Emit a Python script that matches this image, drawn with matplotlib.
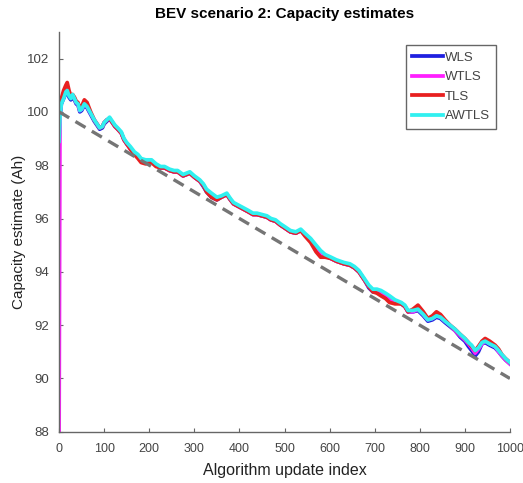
import matplotlib
matplotlib.use('Agg')
import matplotlib.pyplot as plt

plt.rcParams['font.family'] = ['Liberation Sans', 'DejaVu Sans']

# Update indices shared by all estimate series
idx = [0, 2, 5, 10, 15, 18, 22, 26, 30, 34, 38, 42, 46, 50, 56, 62, 70, 78, 84, 90,
       96, 100, 106, 112, 118, 124, 130, 138, 144, 150, 158, 167, 175, 182, 192, 205,
       215, 225, 234, 245, 255, 263, 275, 290, 300, 312, 320, 327, 338, 350, 360, 372,
       380, 387, 398, 409, 420, 430, 439, 450, 461, 470, 480, 491, 500, 513, 525, 536,
       545, 558, 570, 580, 590, 603, 615, 632, 645, 655, 665, 677, 687, 696, 705, 714,
       724, 733, 745, 759, 767, 774, 785, 796, 808, 818, 828, 837, 846, 856, 867, 878,
       890, 900, 908, 915, 923, 930, 938, 945, 955, 967, 975, 982, 990, 1000]

awtls = [98.9, 99.8, 100.3, 100.5, 100.75, 100.8, 100.6, 100.5, 100.65, 100.5, 100.35, 100.3,
         100.05, 100.1, 100.3, 100.2, 99.95, 99.7, 99.55, 99.4, 99.45, 99.6, 99.7, 99.8,
         99.65, 99.5, 99.4, 99.25, 99.0, 98.85, 98.7, 98.5, 98.4, 98.25, 98.2, 98.2,
         98.05, 97.95, 97.95, 97.85, 97.8, 97.8, 97.65, 97.75, 97.6, 97.45, 97.3, 97.1,
         96.95, 96.8, 96.85, 96.95, 96.75, 96.6, 96.5, 96.4, 96.3, 96.2, 96.2, 96.15,
         96.1, 96.0, 95.95, 95.8, 95.7, 95.55, 95.5, 95.6, 95.45, 95.25, 95.0, 94.8,
         94.65, 94.55, 94.45, 94.35, 94.3, 94.2, 94.05, 93.75, 93.5, 93.35, 93.35, 93.3,
         93.2, 93.1, 92.95, 92.85, 92.75, 92.55, 92.55, 92.6, 92.4, 92.2, 92.25, 92.35,
         92.3, 92.15, 92.0, 91.85, 91.65, 91.5, 91.35, 91.25, 91.05, 91.15, 91.35, 91.4,
         91.3, 91.2, 91.05, 90.9, 90.75, 90.6]

tls = [99.8, 100.2, 100.5, 100.8, 101.0, 101.1, 100.8, 100.6, 100.65, 100.55, 100.4, 100.35,
       100.1, 100.2, 100.45, 100.35, 100.0, 99.7, 99.55, 99.4, 99.45, 99.6, 99.7, 99.75,
       99.6, 99.45, 99.35, 99.2, 98.95, 98.8, 98.6, 98.4, 98.25, 98.1, 98.05, 98.1,
       97.95, 97.9, 97.9, 97.8, 97.75, 97.75, 97.6, 97.7, 97.55, 97.4, 97.25, 97.0,
       96.8, 96.7, 96.8, 96.9, 96.7, 96.55, 96.45, 96.35, 96.25, 96.15, 96.15, 96.1,
       96.05, 95.95, 95.9, 95.75, 95.65, 95.5, 95.45, 95.55, 95.35, 95.1, 94.75, 94.55,
       94.55, 94.5, 94.4, 94.3, 94.25, 94.15, 94.0, 93.7, 93.45, 93.25, 93.2, 93.1,
       93.0, 92.85, 92.8, 92.8, 92.7, 92.5, 92.6, 92.75, 92.5, 92.25, 92.35, 92.5,
       92.4, 92.2, 92.0, 91.85, 91.65, 91.5, 91.35, 91.2, 91.05, 91.2, 91.4, 91.5,
       91.4, 91.25, 91.1, 90.9, 90.75, 90.6]

wtls = [88.0, 99.9, 100.4, 100.7, 100.9, 100.95, 100.7, 100.55, 100.6, 100.5, 100.35, 100.3,
        100.05, 100.1, 100.3, 100.2, 99.95, 99.7, 99.55, 99.4, 99.45, 99.6, 99.7, 99.75,
        99.6, 99.45, 99.35, 99.2, 98.95, 98.8, 98.6, 98.45, 98.3, 98.15, 98.1, 98.15,
        98.0, 97.9, 97.9, 97.8, 97.75, 97.75, 97.6, 97.7, 97.55, 97.4, 97.25, 97.05,
        96.85, 96.75, 96.8, 96.9, 96.7, 96.55, 96.45, 96.35, 96.25, 96.15, 96.15, 96.1,
        96.05, 95.95, 95.9, 95.75, 95.65, 95.5, 95.45, 95.55, 95.4, 95.2, 94.9, 94.7,
        94.6, 94.5, 94.4, 94.3, 94.25, 94.15, 94.0, 93.7, 93.45, 93.3, 93.3, 93.2,
        93.1, 93.0, 92.9, 92.8, 92.7, 92.5, 92.5, 92.6, 92.4, 92.2, 92.25, 92.35,
        92.3, 92.15, 92.0, 91.8, 91.6, 91.45, 91.3, 91.15, 90.95, 91.1, 91.3, 91.4,
        91.3, 91.2, 91.0, 90.85, 90.7, 90.55]

wls = [98.9, 99.8, 100.3, 100.5, 100.7, 100.75, 100.55, 100.45, 100.6, 100.45, 100.3, 100.25,
       100.0, 100.05, 100.25, 100.15, 99.9, 99.65, 99.5, 99.35, 99.4, 99.55, 99.65, 99.75,
       99.6, 99.45, 99.35, 99.2, 98.95, 98.8, 98.65, 98.45, 98.35, 98.2, 98.15, 98.15,
       98.0, 97.9, 97.9, 97.8, 97.75, 97.75, 97.6, 97.7, 97.55, 97.4, 97.2, 97.0,
       96.8, 96.7, 96.8, 96.9, 96.7, 96.55, 96.45, 96.35, 96.25, 96.15, 96.15, 96.1,
       96.05, 95.95, 95.9, 95.75, 95.65, 95.5, 95.45, 95.55, 95.4, 95.2, 94.9, 94.7,
       94.6, 94.5, 94.4, 94.3, 94.25, 94.15, 94.0, 93.7, 93.4, 93.25, 93.25, 93.2,
       93.1, 93.0, 92.9, 92.8, 92.7, 92.5, 92.5, 92.55, 92.35, 92.15, 92.2, 92.3,
       92.25, 92.1, 91.95, 91.8, 91.55, 91.4, 91.2, 91.05, 90.85, 91.0, 91.3, 91.35,
       91.25, 91.15, 91.0, 90.85, 90.7, 90.55]

true_idx = [0, 1000]
true_cap = [100, 90]

fig = plt.figure(figsize=(5.23, 4.83), dpi=100)
ax = fig.add_axes([0.113, 0.106, 0.862, 0.828])

ax.plot(idx, wls, color='#2020e0', lw=2.7, label='WLS')
ax.plot(idx, wtls, color='#ff20ff', lw=2.7, label='WTLS')
ax.plot(idx, tls, color='#e82020', lw=2.7, label='TLS')
ax.plot(idx, awtls, color='#30f0f0', lw=2.7, label='AWTLS')
ax.plot(true_idx, true_cap, color='#757575', lw=2.4, ls=(0, (3.5, 2.2)))

ax.set_xlim(0, 1000)
ax.set_ylim(88, 103)
ax.set_xticks(range(0, 1001, 100))
ax.set_yticks(range(88, 103, 2))

for s in ['top', 'right']:
    ax.spines[s].set_visible(False)
for s in ['left', 'bottom']:
    ax.spines[s].set_color('#666666')
    ax.spines[s].set_linewidth(1.0)
ax.tick_params(direction='in', length=3, colors='#666666', labelsize=9.5,
               labelcolor='#444444')
ax.tick_params(axis='x', pad=8, labelsize=9)
ax.tick_params(axis='y', pad=7)

ax.set_title('BEV scenario 2: Capacity estimates', fontsize=11, fontweight='bold', pad=10)
ax.set_xlabel('Algorithm update index', fontsize=11.5, color='#222222', labelpad=6)
ax.set_ylabel('Capacity estimate (Ah)', fontsize=11, color='#222222', labelpad=1)

leg = ax.legend(loc='upper right', fontsize=9.5, handlelength=2.3, fancybox=False,
                framealpha=1, edgecolor='#666666', borderaxespad=0.0,
                handletextpad=0.15, labelspacing=0.55, borderpad=0.5,
                bbox_to_anchor=(0.97, 0.967))
for t in leg.get_texts():
    t.set_color('#444444')

fig.savefig('out.png', dpi=100)
